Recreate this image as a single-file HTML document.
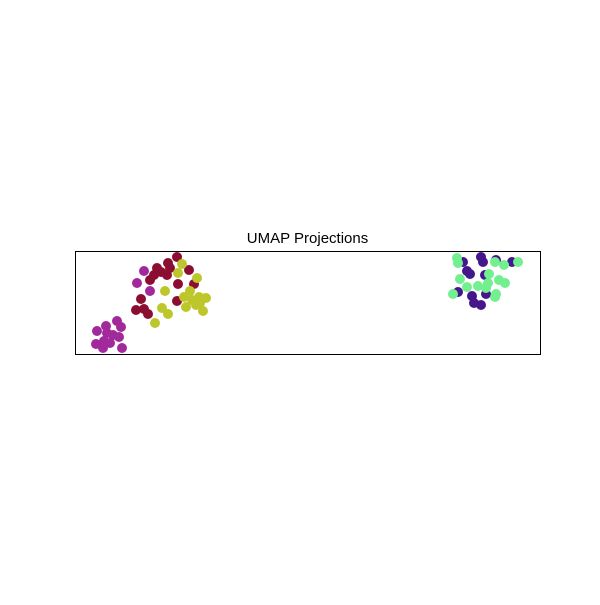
<!DOCTYPE html>
<html><head><meta charset="utf-8"><style>body{margin:0;background:#fff}</style></head>
<body>
<svg id="chart" width="600" height="600" xmlns="http://www.w3.org/2000/svg">
<rect width="600" height="600" fill="#fff"/>
<text x="307.5" y="243" text-anchor="middle" font-family="Liberation Sans, sans-serif" font-size="15">UMAP Projections</text>
<g id="points"></g>
<rect x="75.5" y="251.5" width="465" height="103" fill="none" stroke="#000" stroke-width="1"/>
</svg>
<script>
const magentaX=[97,106,117,121,96,104,110,119,122,103,113,107,144,137,150];
const magentaY=[331,326,321,327,344,341,343,337,348,348,335,333,271,283,291];
const redX=[177,168,157,167,150,189,161,178,194,141,136,144,148,177,154,170];
const redY=[257,263,268,275,280,270,272,284,284,299,310,309,314,301,275,268];
const oliveX=[182,178,197,165,184,190,199,206,196,203,186,162,168,155,200,192];
const oliveY=[264,273,278,291,297,291,297,298,305,311,307,308,314,323,303,300];
const purpleX=[463,467,470,481,483,496,512,485,458,472,474,481,486];
const purpleY=[262,271,274,257,262,260,262,275,292,296,303,305,294];
const greenX=[457,458,495,504,518,460,467,478,489,488,499,453,486,495,496,505];
const greenY=[258,263,262,265,262,279,287,286,274,283,280,294,288,297,294,283];
const seriesNames=['cluster-magenta','cluster-red','cluster-olive','cluster-purple','cluster-green'];
const colors=['#a2299b','#8b0e32','#bdc72b','#44178b','#72ef8e'];
// axis functions: data units map to the plot frame (x 75..540, y 251..354)
const xDomain=[75,540], yDomain=[251,354];
function sx(v){return 75+(v-xDomain[0])/(xDomain[1]-xDomain[0])*465;}
function sy(v){return 251+(v-yDomain[0])/(yDomain[1]-yDomain[0])*103;}
const g=document.getElementById('points');
const all=[[magentaX,magentaY],[redX,redY],[oliveX,oliveY],[purpleX,purpleY],[greenX,greenY]];
all.forEach((s,i)=>{
  s[0].forEach((x,j)=>{
    const c=document.createElementNS('http://www.w3.org/2000/svg','circle');
    c.setAttribute('cx',sx(x));c.setAttribute('cy',sy(s[1][j]));c.setAttribute('r',5);
    c.setAttribute('fill',colors[i]);
    
    
    c.setAttribute('class',seriesNames[i]);
    g.appendChild(c);
  });
});
</script>
</body></html>
